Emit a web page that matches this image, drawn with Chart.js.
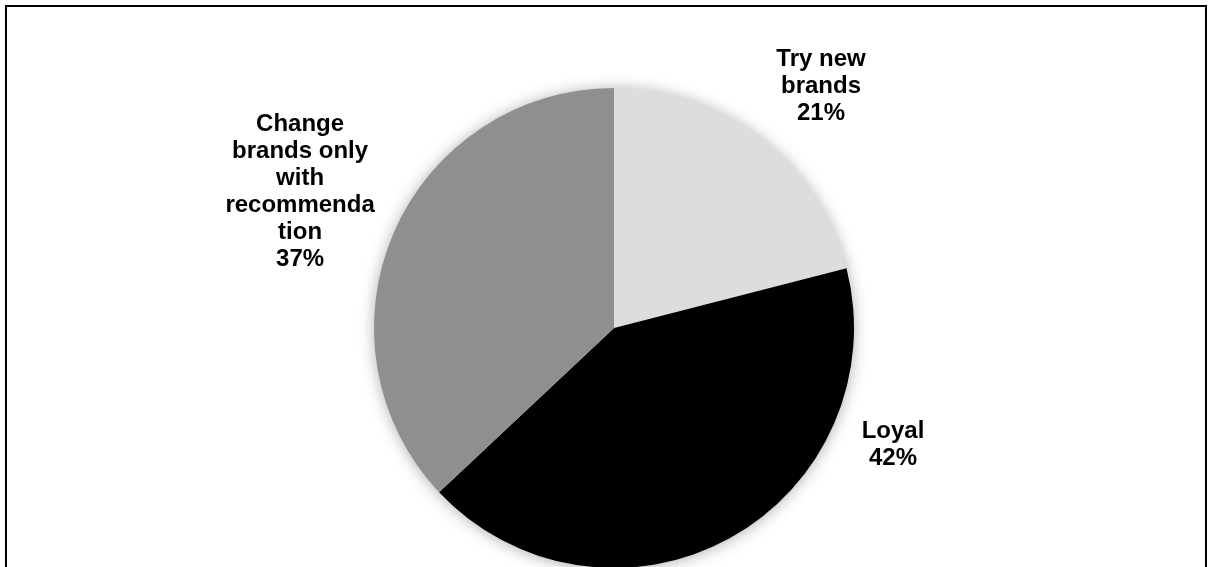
<!DOCTYPE html>
<html>
<head>
<meta charset="utf-8">
<title>Brand loyalty</title>
<script src="https://cdn.jsdelivr.net/npm/chart.js@4"></script>
<style>
  html, body { margin: 0; padding: 0; background: #fff; overflow: hidden; }
  body { width: 1208px; height: 567px; position: relative; }
  .frame {
    position: absolute; left: 5px; top: 5px;
    width: 1198px; height: 700px;
    border: 2px solid #000;
  }
  .wrap { position: absolute; left: 0; top: 0; width: 1208px; height: 620px; }
</style>
</head>
<body>
<div class="frame"></div>
<div class="wrap"><canvas id="chartLoyalty"></canvas></div>
<script>
// ===== data =====
const categories = ['Try new brands', 'Loyal', 'Change brands only with recommendation'];
const shares = [21, 42, 37];
// label text as wrapped in the data labels
const labelLines = [
  ['Try new', 'brands'],
  ['Loyal'],
  ['Change', 'brands only', 'with', 'recommenda', 'tion'],
];

// ===== styles =====
const SLICE_COLORS = ['#dddddd', '#000000', '#8f8f8f'];
// label box centre, in radius units from the pie centre
const LABEL_OFFSETS = [
  { x: 0.8625, y: -1.008 },
  { x: 1.1625, y: 0.485 },
  { x: -1.308, y: -0.569 },
];
const LABEL_FONT = 'bold 24px "Liberation Sans", Arial, sans-serif';
const LINE_HEIGHT = 27;

// soft shadow behind the pie
const pieShadow = {
  id: 'pieShadow',
  beforeDatasetsDraw(chart) {
    const arc = chart.getDatasetMeta(0).data[0];
    if (!arc) return;
    const { ctx } = chart;
    ctx.save();
    ctx.shadowColor = 'rgba(0,0,0,0.35)';
    ctx.shadowBlur = 16;
    ctx.shadowOffsetY = 1;
    ctx.fillStyle = '#ffffff';
    ctx.beginPath();
    ctx.arc(arc.x, arc.y, arc.outerRadius - 1, 0, Math.PI * 2);
    ctx.fill();
    ctx.restore();
  }
};

// category + percentage labels outside the slices
const sliceLabels = {
  id: 'sliceLabels',
  afterDatasetsDraw(chart) {
    const { ctx } = chart;
    const meta = chart.getDatasetMeta(0);
    const total = shares.reduce((a, b) => a + b, 0);
    ctx.save();
    ctx.font = LABEL_FONT;
    ctx.fillStyle = '#000';
    ctx.textAlign = 'center';
    ctx.textBaseline = 'middle';
    meta.data.forEach((arc, i) => {
      const lines = labelLines[i].concat(Math.round(shares[i] / total * 100) + '%');
      const cx = arc.x + LABEL_OFFSETS[i].x * arc.outerRadius;
      const cy = arc.y + LABEL_OFFSETS[i].y * arc.outerRadius;
      const top = cy - (lines.length - 1) * LINE_HEIGHT / 2;
      lines.forEach((t, j) => ctx.fillText(t, cx, top + j * LINE_HEIGHT));
    });
    ctx.restore();
  }
};

new Chart(document.getElementById('chartLoyalty'), {
  type: 'pie',
  data: {
    labels: categories,
    datasets: [{
      data: shares,
      backgroundColor: SLICE_COLORS,
      borderWidth: 0,
    }]
  },
  options: {
    responsive: true,
    maintainAspectRatio: false,
    animation: false,
    layout: { padding: { top: 88, bottom: 52, left: 20, right: 0 } },
    plugins: {
      legend: { display: false },
      tooltip: { enabled: false },
    }
  },
  plugins: [pieShadow, sliceLabels]
});
</script>
</body>
</html>
